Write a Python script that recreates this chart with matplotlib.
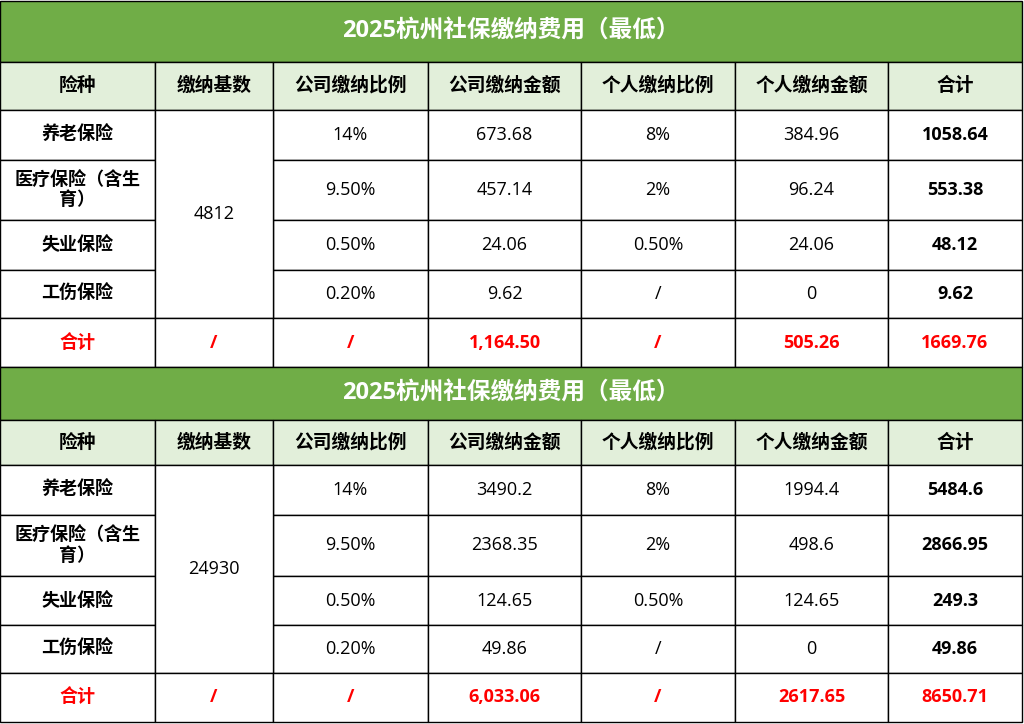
import matplotlib
matplotlib.use("Agg")
import matplotlib.pyplot as plt
from matplotlib.patches import Rectangle

TITLE = "2025杭州社保缴纳费用（最低）"
HEADERS = ["险种", "缴纳基数", "公司缴纳比例", "公司缴纳金额", "个人缴纳比例", "个人缴纳金额", "合计"]
KINDS = ["养老保险", "医疗保险（含生\n育）", "失业保险", "工伤保险"]
COMPANY_RATE = ["14%", "9.50%", "0.50%", "0.20%"]
PERSONAL_RATE = ["8%", "2%", "0.50%", "/"]

BASE_1 = "4812"
COMPANY_AMT_1 = ["673.68", "457.14", "24.06", "9.62"]
PERSONAL_AMT_1 = ["384.96", "96.24", "24.06", "0"]
TOTAL_1 = ["1058.64", "553.38", "48.12", "9.62"]
SUM_ROW_1 = ["合计", "/", "/", "1,164.50", "/", "505.26", "1669.76"]

BASE_2 = "24930"
COMPANY_AMT_2 = ["3490.2", "2368.35", "124.65", "49.86"]
PERSONAL_AMT_2 = ["1994.4", "498.6", "124.65", "0"]
TOTAL_2 = ["5484.6", "2866.95", "249.3", "49.86"]
SUM_ROW_2 = ["合计", "/", "/", "6,033.06", "/", "2617.65", "8650.71"]

COL_X = [0, 155, 273, 428, 581, 735, 888, 1022]
FONT = ["Open Sans", "Noto Sans CJK SC"]
GREEN = "#70AD47"
LIGHT = "#E2EFDA"
RED = "#FF0000"

fig = plt.figure(figsize=(10.24, 7.24), dpi=100)
ax = fig.add_axes([0, 0, 1, 1])
ax.set_xlim(0, 1024)
ax.set_ylim(724, 0)
ax.axis("off")


def cell(x0, x1, y0, y1, text, fc="white", color="black", size=12, weight="normal"):
    ax.add_patch(Rectangle((x0, y0), x1 - x0, y1 - y0, facecolor=fc, edgecolor="black", lw=1))
    ax.text((x0 + x1) / 2, (y0 + y1) / 2, text, ha="center", va="center", fontsize=size,
            color=color, fontweight=weight, family=FONT, linespacing=1.15)


def draw_table(rows_y, base, comp_amt, pers_amt, total, sum_row):
    y = rows_y
    cell(COL_X[0], COL_X[-1], y[0], y[1], TITLE, fc=GREEN, color="white", size=17, weight="bold")
    for i, h in enumerate(HEADERS):
        cell(COL_X[i], COL_X[i + 1], y[1], y[2], h, fc=LIGHT, size=13.5, weight="bold")
    for r in range(4):
        y0, y1 = y[2 + r], y[3 + r]
        vals = [KINDS[r], None, COMPANY_RATE[r], comp_amt[r], PERSONAL_RATE[r], pers_amt[r], total[r]]
        for i, v in enumerate(vals):
            if v is None:
                continue
            bold = i in (0, 6)
            cell(COL_X[i], COL_X[i + 1], y0, y1, v, size=13,
                 weight="bold" if bold else "normal")
    cell(COL_X[1], COL_X[2], y[2], y[6], base, size=13)
    for i, v in enumerate(sum_row):
        cell(COL_X[i], COL_X[i + 1], y[6], y[7], v, color=RED, size=13, weight="bold")


draw_table([1, 62, 110, 160, 220, 270, 318, 367], BASE_1, COMPANY_AMT_1, PERSONAL_AMT_1, TOTAL_1, SUM_ROW_1)
draw_table([367, 420, 465, 515, 576, 625, 673, 722], BASE_2, COMPANY_AMT_2, PERSONAL_AMT_2, TOTAL_2, SUM_ROW_2)

fig.savefig("out.png", dpi=100)
